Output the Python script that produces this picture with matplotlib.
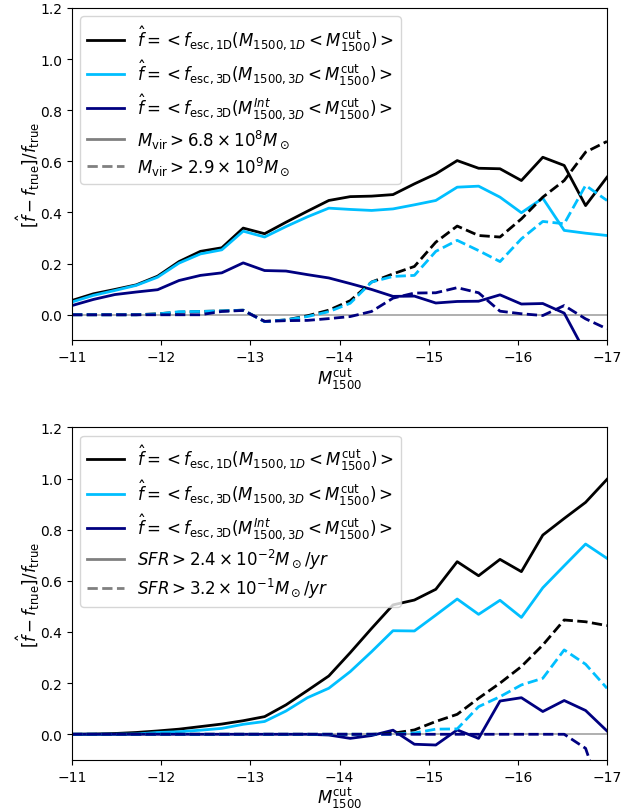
import matplotlib
matplotlib.use('Agg')
import matplotlib.pyplot as plt
from matplotlib.lines import Line2D

# magnitude cuts
mcut = [-11.0, -11.24, -11.48, -11.72, -11.96, -12.2, -12.44, -12.68, -12.92, -13.16,
        -13.4, -13.64, -13.88, -14.12, -14.36, -14.6, -14.84, -15.08, -15.32, -15.56,
        -15.8, -16.04, -16.28, -16.52, -16.76, -17.0]

# top panel: Mvir cuts
mvir_1d_lo = [0.056, 0.082, 0.099, 0.117, 0.151, 0.208, 0.248, 0.262, 0.339, 0.317,
              0.362, 0.405, 0.447, 0.462, 0.464, 0.470, 0.512, 0.551, 0.603, 0.573,
              0.571, 0.525, 0.616, 0.584, 0.427, 0.538]
mvir_3d_lo = [0.050, 0.076, 0.095, 0.115, 0.147, 0.202, 0.238, 0.254, 0.327, 0.304,
              0.345, 0.383, 0.417, 0.412, 0.408, 0.414, 0.430, 0.447, 0.499, 0.503,
              0.460, 0.399, 0.456, 0.330, 0.319, 0.310]
mvir_int_lo = [0.036, 0.060, 0.079, 0.089, 0.098, 0.134, 0.154, 0.164, 0.203, 0.173,
               0.171, 0.157, 0.144, 0.122, 0.099, 0.072, 0.073, 0.046, 0.052, 0.053,
               0.078, 0.042, 0.044, 0.0065, -0.15, -0.30]
mvir_1d_hi = [0.0, 0.0, 0.0, 0.0, 0.004, 0.010, 0.013, 0.015, 0.018, -0.026,
              -0.020, -0.004, 0.018, 0.055, 0.128, 0.160, 0.189, 0.284, 0.347, 0.310,
              0.304, 0.375, 0.460, 0.525, 0.636, 0.678]
mvir_3d_hi = [0.0, 0.0, 0.0, 0.0, 0.003, 0.012, 0.013, 0.015, 0.018, -0.027,
              -0.020, -0.007, 0.012, 0.045, 0.128, 0.150, 0.154, 0.248, 0.291, 0.251,
              0.208, 0.297, 0.365, 0.356, 0.506, 0.447]
mvir_int_hi = [0.0, 0.0, 0.0, 0.0, 0.0, 0.0, 0.0, 0.013, 0.017, -0.026,
               -0.023, -0.022, -0.015, -0.007, 0.013, 0.065, 0.085, 0.086, 0.106, 0.086,
               0.014, 0.004, -0.003, 0.036, -0.016, -0.055]

# bottom panel: SFR cuts
sfr_1d_lo = [0.0, 0.001, 0.003, 0.007, 0.013, 0.020, 0.030, 0.040, 0.053, 0.069,
             0.115, 0.171, 0.228, 0.319, 0.414, 0.506, 0.525, 0.567, 0.675, 0.620,
             0.684, 0.636, 0.779, 0.844, 0.907, 0.997]
sfr_3d_lo = [0.0, 0.0, 0.0, 0.001, 0.007, 0.010, 0.016, 0.023, 0.039, 0.050,
             0.091, 0.143, 0.180, 0.245, 0.323, 0.405, 0.404, 0.466, 0.529, 0.469,
             0.524, 0.457, 0.573, 0.659, 0.744, 0.688]
sfr_int_lo = [0.0, 0.0, 0.0, 0.0, 0.0, 0.0, 0.0, 0.0, 0.0, 0.0,
              0.0, 0.0, -0.003, -0.016, -0.005, 0.016, -0.039, -0.042, 0.017, -0.016,
              0.130, 0.143, 0.089, 0.132, 0.093, 0.013]
sfr_1d_hi = [0.0, 0.0, 0.0, 0.0, 0.0, 0.0, 0.0, 0.0, 0.0, 0.0,
             0.0, 0.0, 0.0, 0.0, 0.0, 0.004, 0.017, 0.050, 0.078, 0.141,
             0.200, 0.265, 0.349, 0.447, 0.440, 0.425]
sfr_3d_hi = [0.0, 0.0, 0.0, 0.0, 0.0, 0.0, 0.0, 0.0, 0.0, 0.0,
             0.0, 0.0, 0.0, 0.0, 0.0, 0.0, 0.005, 0.020, 0.021, 0.108,
             0.147, 0.193, 0.219, 0.330, 0.274, 0.180]
sfr_int_hi = [0.0, 0.0, 0.0, 0.0, 0.0, 0.0, 0.0, 0.0, 0.0, 0.0,
              0.0, 0.0, 0.0, 0.0, 0.0, 0.0, 0.0, 0.0, 0.0, 0.0,
              0.0, 0.0, 0.0, 0.0, -0.055, -0.30]

labels = [r'$\hat{f} = <f_{\rm esc, 1D}(M_{1500, 1D} < M_{1500}^{\rm cut})>$',
          r'$\hat{f} = <f_{\rm esc, 3D}(M_{1500, 3D} < M_{1500}^{\rm cut})>$',
          r'$\hat{f} = <f_{\rm esc, 3D}(M_{1500, 3D}^{Int} < M_{1500}^{\rm cut})>$']
cut_labels_top = [r'$M_{\rm vir} > 6.8 \times 10^8 M_\odot$',
                  r'$M_{\rm vir} > 2.9 \times 10^9 M_\odot$']
cut_labels_bot = [r'$SFR > 2.4 \times 10^{-2} M_\odot/yr$',
                  r'$SFR > 3.2 \times 10^{-1} M_\odot/yr$']
colors = ['black', 'deepskyblue', 'navy']

fig, axes = plt.subplots(2, 1, figsize=(6.43, 8.12), dpi=100)
plt.subplots_adjust(left=0.112, right=0.944, top=0.989, bottom=0.063, hspace=0.262)

panels = [(axes[0], [mvir_1d_lo, mvir_3d_lo, mvir_int_lo], [mvir_1d_hi, mvir_3d_hi, mvir_int_hi], cut_labels_top),
          (axes[1], [sfr_1d_lo, sfr_3d_lo, sfr_int_lo], [sfr_1d_hi, sfr_3d_hi, sfr_int_hi], cut_labels_bot)]

for ax, lo, hi, cuts in panels:
    ax.axhline(0, color='darkgrey', lw=1.3, zorder=1)
    for y, c in zip(lo, colors):
        ax.plot(mcut, y, color=c, lw=2)
    for y, c in zip(hi, colors):
        ax.plot(mcut, y, color=c, lw=2, ls='--')

    handles = [Line2D([], [], color=c, lw=2) for c in colors]
    handles += [Line2D([], [], color='grey', lw=2), Line2D([], [], color='grey', lw=2, ls='--')]
    ax.legend(handles, labels + cuts, loc='upper left', fontsize=12, handlelength=2.2,
              labelspacing=0.3)

    ax.set_xlim(-11, -17)
    ax.set_ylim(-0.1, 1.2)
    ax.set_xticks([-11, -12, -13, -14, -15, -16, -17])
    ax.set_xlabel(r'$M_{1500}^{\rm cut}$', fontsize=12, labelpad=1)
    ax.set_ylabel(r'$[\hat{f} - f_{\rm true}]/f_{\rm true}$', fontsize=12, labelpad=-1)

plt.savefig('out.png', dpi=100)
